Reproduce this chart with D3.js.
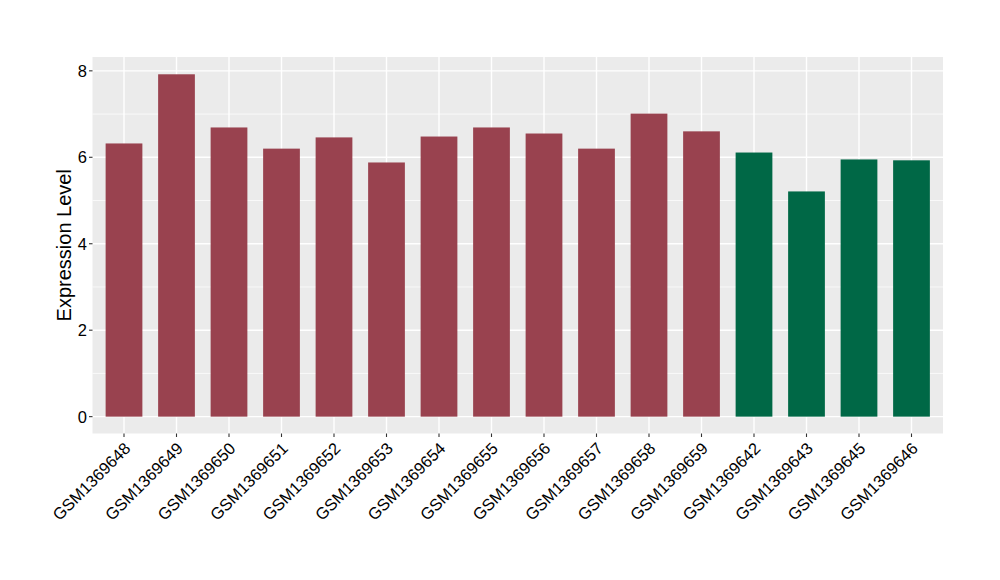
<!DOCTYPE html>
<html><head><meta charset="utf-8">
<script src="https://cdn.jsdelivr.net/npm/d3@7"></script>
<style>body{margin:0;background:#fff;}svg{display:block;}</style>
</head><body>
<svg id="c" width="1000" height="580"></svg>
<script>
const categories = ["GSM1369648","GSM1369649","GSM1369650","GSM1369651","GSM1369652","GSM1369653","GSM1369654","GSM1369655","GSM1369656","GSM1369657","GSM1369658","GSM1369659","GSM1369642","GSM1369643","GSM1369645","GSM1369646"];
const values = [6.32,7.92,6.69,6.20,6.46,5.88,6.48,6.69,6.55,6.20,7.01,6.60,6.11,5.21,5.95,5.93];
const groups = ["A","A","A","A","A","A","A","A","A","A","A","A","B","B","B","B"];
const yTicks = [0,2,4,6,8];
const yMinor = [1,3,5,7];
const groupColors = {A:"#99424F", B:"#006846"};

const svg = d3.select("#c");
const L=92.5, R=943, T=57, B=433.5;
const font = "'Liberation Sans', Arial, sans-serif";

const n = categories.length;
const xc = d3.scaleLinear().domain([0.4, n+0.6]).range([L,R]);
const y = d3.scaleLinear().domain([-0.39, 8.32]).range([B,T]);

svg.append("rect").attr("x",L).attr("y",T).attr("width",R-L).attr("height",B-T).attr("fill","#EBEBEB");

svg.selectAll(".gmin").data(yMinor).enter().append("line")
  .attr("x1",L).attr("x2",R).attr("y1",d=>y(d)).attr("y2",d=>y(d))
  .attr("stroke","#fff").attr("stroke-width",0.7);
svg.selectAll(".gmaj").data(yTicks).enter().append("line")
  .attr("x1",L).attr("x2",R).attr("y1",d=>y(d)).attr("y2",d=>y(d))
  .attr("stroke","#fff").attr("stroke-width",1.4);
svg.selectAll(".gx").data(categories).enter().append("line")
  .attr("x1",(d,i)=>xc(i+1)).attr("x2",(d,i)=>xc(i+1)).attr("y1",T).attr("y2",B)
  .attr("stroke","#fff").attr("stroke-width",1.4);

const bw = (xc(1.35)-xc(1));
svg.selectAll(".bar").data(values).enter().append("rect")
  .attr("x",(d,i)=>xc(i+1)-bw).attr("width",bw*2)
  .attr("y",d=>y(d)).attr("height",d=>y(0)-y(d))
  .attr("fill",(d,i)=>groupColors[groups[i]]);

// y axis ticks
svg.selectAll(".yt").data(yTicks).enter().append("line")
  .attr("x1",L-3.5).attr("x2",L).attr("y1",d=>y(d)).attr("y2",d=>y(d))
  .attr("stroke","#333").attr("stroke-width",1.1);
svg.selectAll(".yl").data(yTicks).enter().append("text")
  .attr("x",L-5.5).attr("y",d=>y(d)).attr("dy","0.36em")
  .attr("text-anchor","end").attr("font-family",font).attr("font-size",16.5).attr("fill","#000")
  .text(d=>d);

// x ticks
svg.selectAll(".xt").data(categories).enter().append("line")
  .attr("x1",(d,i)=>xc(i+1)).attr("x2",(d,i)=>xc(i+1)).attr("y1",B).attr("y2",B+3.5)
  .attr("stroke","#333").attr("stroke-width",1.1);
svg.selectAll(".xl").data(categories).enter().append("text")
  .attr("transform",(d,i)=>`translate(${xc(i+1)+7.5},${B+16}) rotate(-45)`)
  .attr("text-anchor","end")
  .attr("font-family",font).attr("font-size",16.5).attr("fill","#000")
  .text(d=>d);

svg.append("text").attr("transform",`translate(71,${(T+B)/2}) rotate(-90)`)
  .attr("text-anchor","middle").attr("font-family",font).attr("font-size",20).attr("fill","#000")
  .text("Expression Level");
</script>
</body></html>
